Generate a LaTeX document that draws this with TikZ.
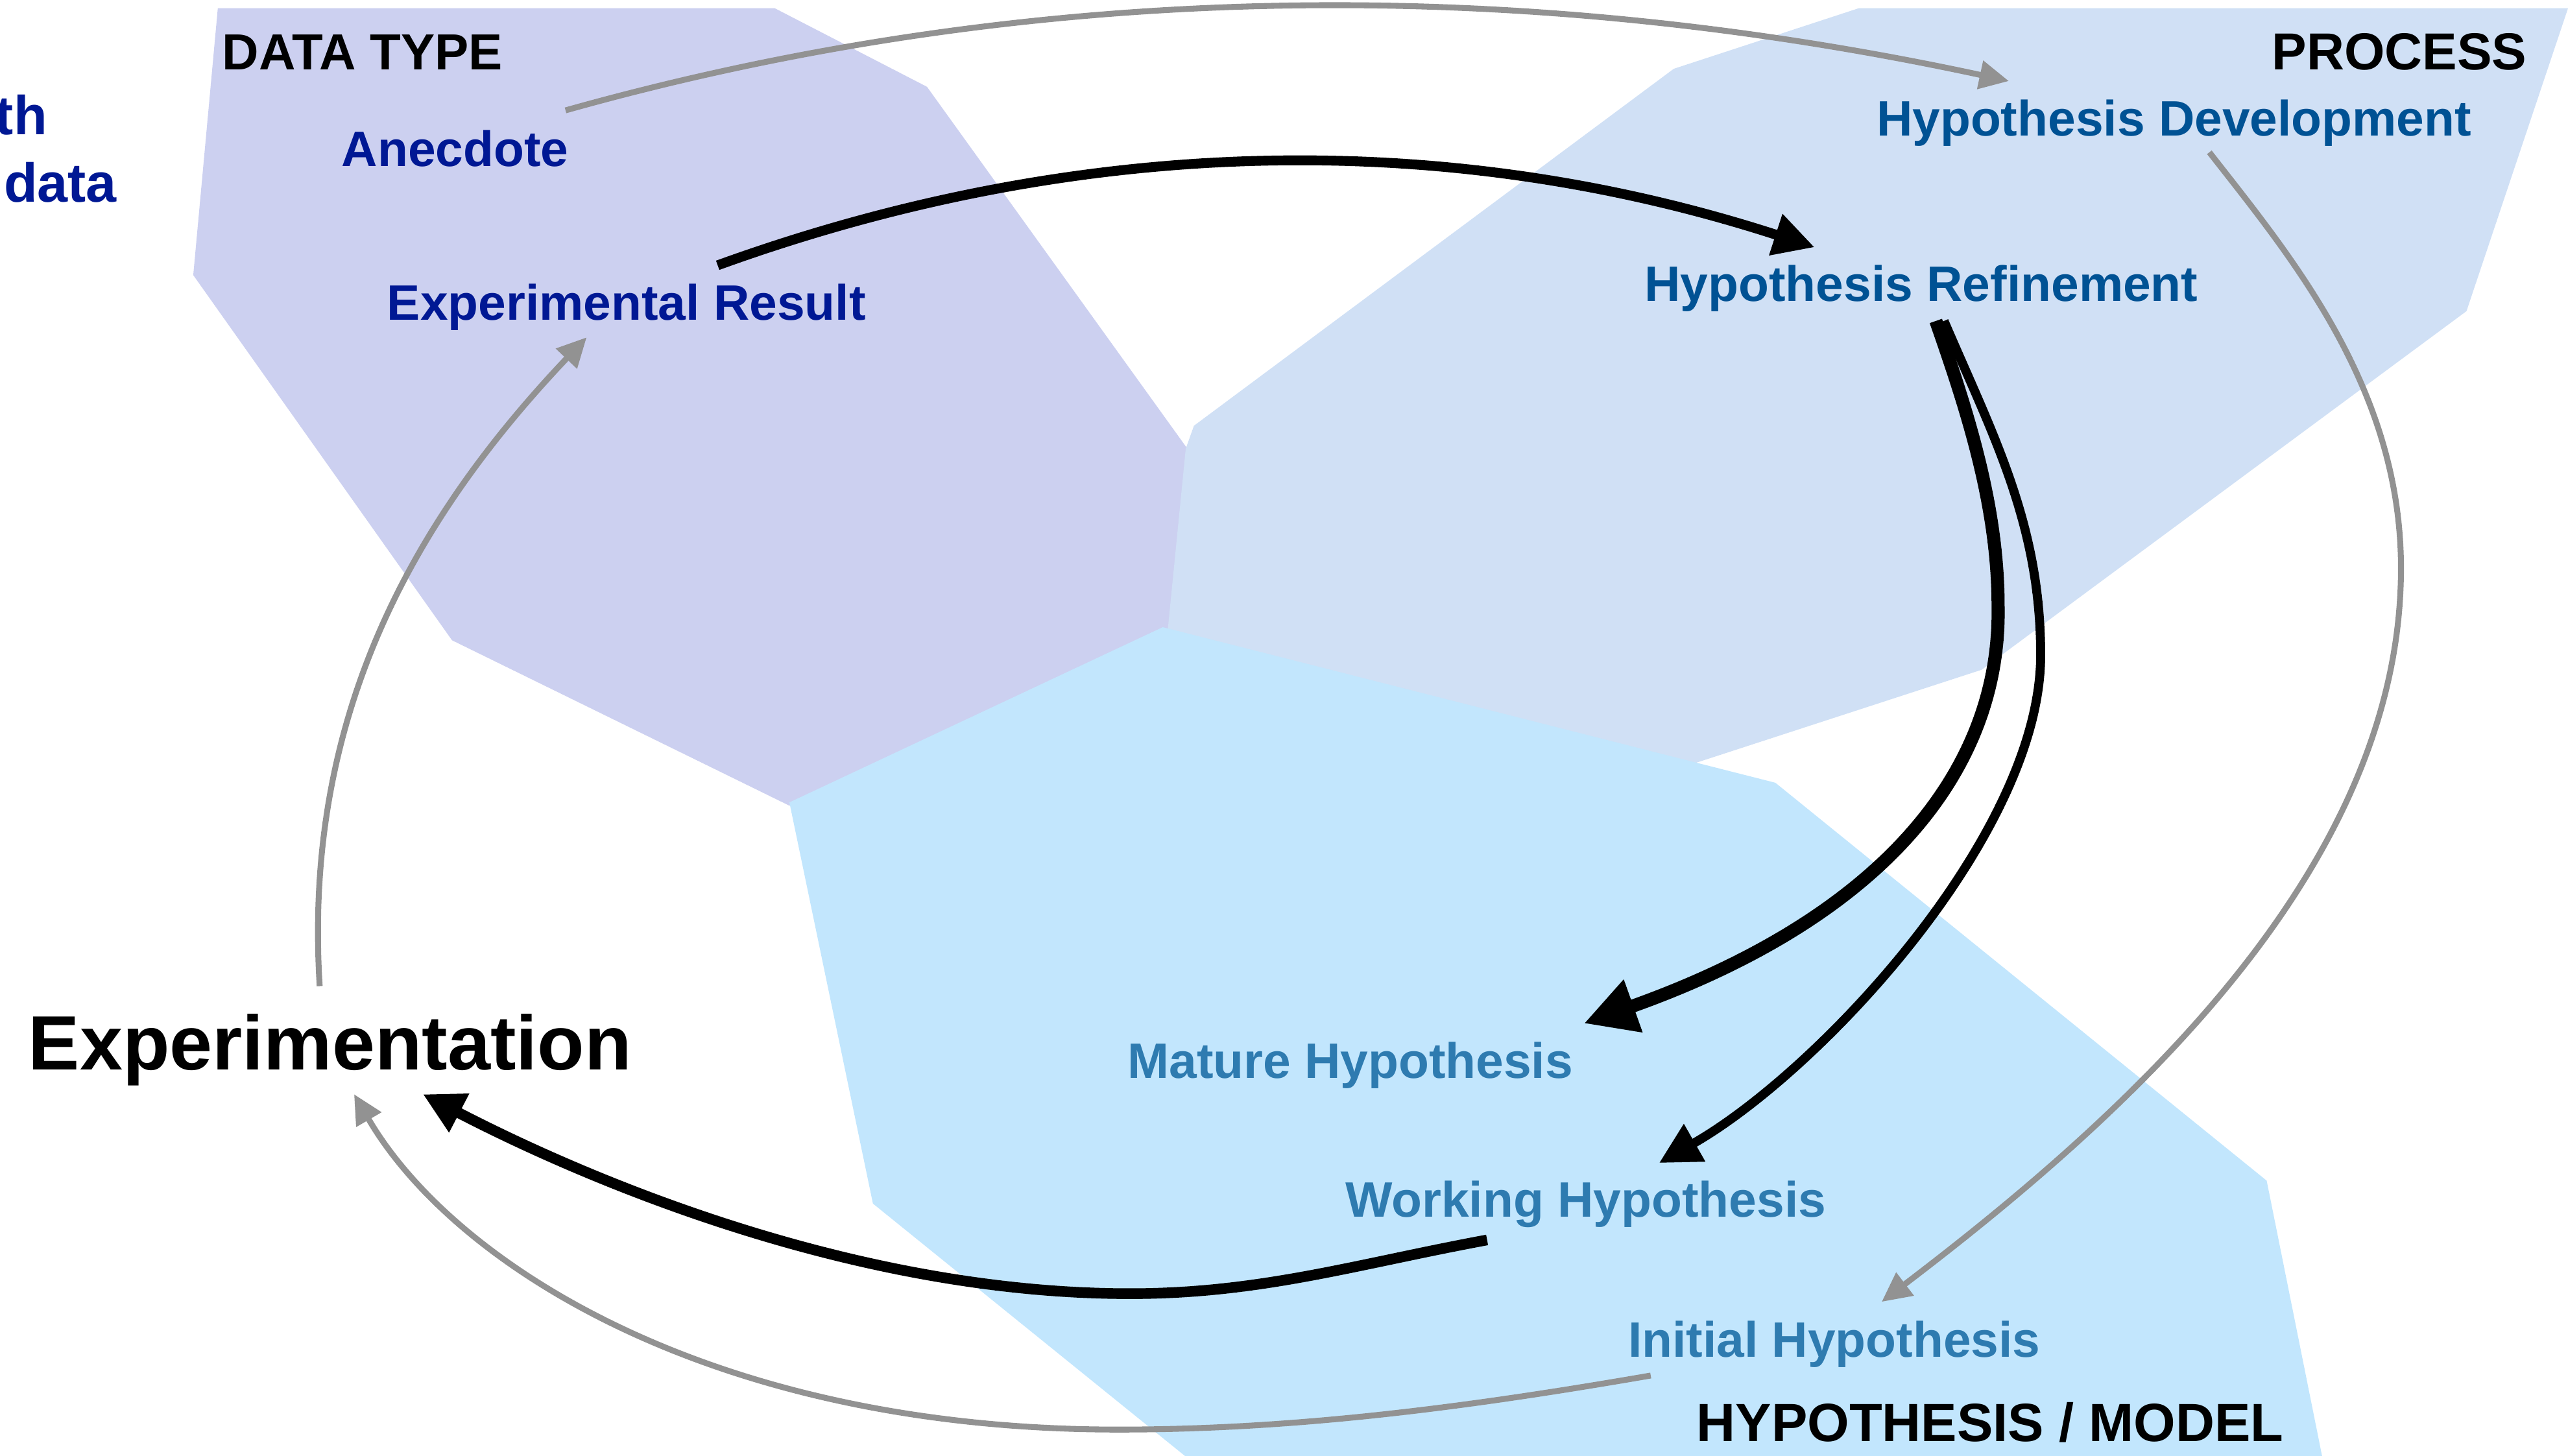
\documentclass[tikz,border=0pt]{standalone}
\usepackage{fontspec}
\setmainfont{Liberation Sans}
\usetikzlibrary{arrows.meta,calc}
\definecolor{dtfill}{RGB}{204,208,240}
\definecolor{prfill}{RGB}{208,224,245}
\definecolor{hyfill}{RGB}{194,230,253}
\definecolor{dttext}{RGB}{0,24,148}
\definecolor{prtext}{RGB}{0,82,148}
\definecolor{hytext}{RGB}{46,123,176}
\definecolor{arrgray}{RGB}{146,146,146}
\begin{document}
\begin{tikzpicture}[x=1pt,y=-1pt,
  lbl/.style={inner sep=0pt, anchor=base west, font=\bfseries\fontsize{30.4}{36}\selectfont},
  headlbl/.style={inner sep=0pt, anchor=base west, text=black, font=\bfseries\fontsize{#1}{40}\selectfont},
  cutlbl/.style={inner sep=0pt, anchor=base east, text=dttext, font=\bfseries\fontsize{33.5}{40}\selectfont},
  grayarr/.style={draw=arrgray, line width=3.6pt, -{Triangle[length=18pt,width=17pt]}},
  blkarr/.style={draw=black, line width=#1, -{Triangle[length=25pt,width=25pt]}},
  bigarr/.style={draw=black, line width=8pt, -{Triangle[length=32pt,width=32pt]}}
]
\useasboundingbox (0,0) rectangle (1568,889);
% regions
\fill[dtfill] (133,5) -- (473,5) -- (566,53) -- (725,274) -- (716,383) -- (482,492) -- (276,391) -- (118,168) -- cycle;
\fill[prfill] (1135,5) -- (1568,5) -- (1506,190) -- (1210,409) -- (1035,466) -- (1040,475) -- (712,395) -- (724,274) -- (729,260) -- (1022,42) -- cycle;
\fill[hyfill] (482,490) -- (710,383) -- (1084,478) -- (1384,721) -- (1420,900) -- (737,900) -- (533,735) -- cycle;
% texts
\node[cutlbl] (th) at (29,82) {th};
\node[cutlbl] (data) at (71.5,123.5) {data};
\node[headlbl=31] (dtype) at (135.6,42.5) {DATA TYPE};
\node[headlbl=31.8] (proc) at (1387,42.5) {PROCESS};
\node[headlbl=32.9] (hymod) at (1035.8,880.3) {HYPOTHESIS / MODEL};
\node[headlbl=47] (expt) at (17.2,653.2) {Experimentation};
\node[lbl, text=dttext] (anec) at (208.4,101.4) {Anecdote};
\node[lbl, text=dttext] (expres) at (236.2,195.5) {Experimental Result};
\node[lbl, text=prtext] (hdev) at (1145.6,83) {Hypothesis Development};
\node[lbl, text=prtext] (href) at (1004,184) {Hypothesis Refinement};
\node[lbl, text=hytext] (mature) at (688.3,658.6) {Mature Hypothesis};
\node[lbl, text=hytext] (working) at (821.4,743.2) {Working Hypothesis};
\node[lbl, text=hytext] (initial) at (993.9,828.6) {Initial Hypothesis};
% connectors
\draw[grayarr] ($(anec.base east)+(-2,-34)$) .. controls (624,-11) and (918,-17) .. ($(hdev.base west)+(81,-33.5)$);
\draw[blkarr=6pt] ($(expres.base west)+(202,-33.5)$) .. controls (659,82) and (883,78) .. ($(href.base west)+(104,-33)$);
\draw[grayarr] ($(hdev.base west)+(203.4,10)$) .. controls (1399,157) and (1466,237) .. (1466,347) .. controls (1466,530) and (1300,680) .. ($(initial.base west)+(155,-33.6)$);
\draw[grayarr] ($(initial.base west)+(14,11.4)$) .. controls (898,859) and (793,873) .. (683,873) .. controls (433,873) and (276,771) .. ($(expt.base west)+(199,15)$);
\draw[grayarr] ($(expt.base west)+(178,-51)$) .. controls (185,440) and (250,320) .. ($(expres.base west)+(122,10.5)$);
\draw[bigarr] ($(href.base west)+(178,12)$) .. controls (1202,253) and (1220,310) .. (1220,370) .. controls (1222,470) and (1150,560) .. ($(mature.base east)+(6.4,-33.6)$);
\draw[blkarr=5.5pt] ($(href.base west)+(183,12)$) .. controls (1217,266) and (1246,320) .. (1246,400) .. controls (1246,510) and (1110,655) .. ($(working.base west)+(191.6,-33)$);
\draw[blkarr=6.5pt] ($(working.base west)+(86.6,14)$) .. controls (828,772) and (770,790) .. (690,790) .. controls (520,790) and (356,719) .. ($(expt.base west)+(241,15)$);
\end{tikzpicture}
\end{document}
